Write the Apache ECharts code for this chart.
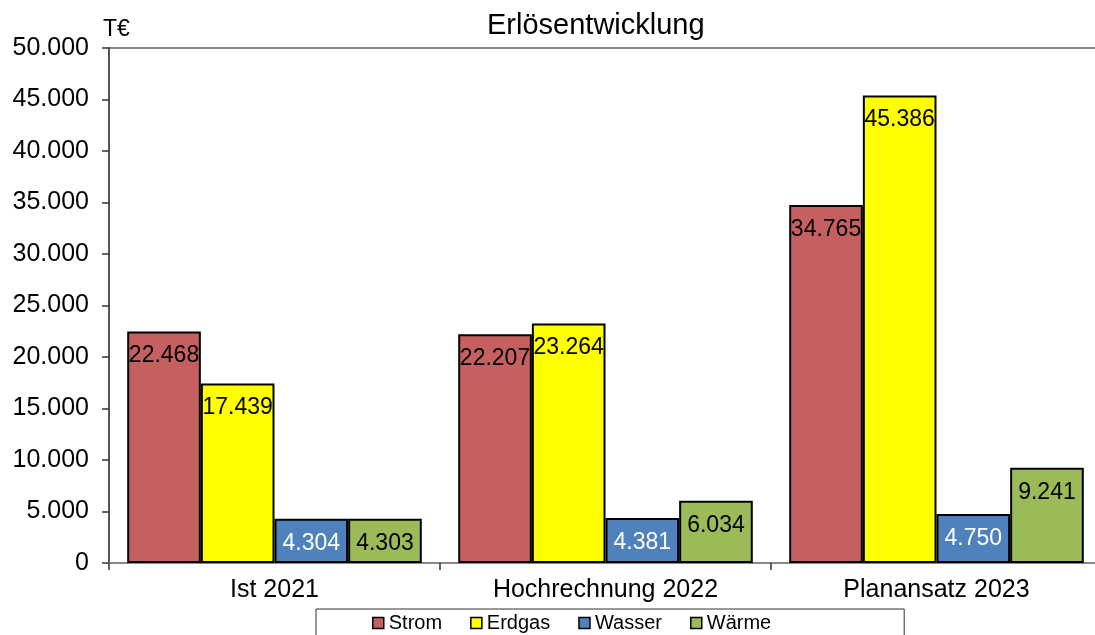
<!DOCTYPE html>
<html>
<head>
<meta charset="utf-8">
<script src="https://cdn.jsdelivr.net/npm/echarts@6/dist/echarts.min.js"></script>
<style>
  html, body { margin: 0; padding: 0; background: #fff; }
  #chart { width: 1095px; height: 635px; }
</style>
</head>
<body>
<div id="chart"></div>
<script>
// Werte in T€
const categories = ["Ist 2021", "Hochrechnung 2022", "Planansatz 2023"];
const strom = [22468, 22207, 34765];
const erdgas = [17439, 23264, 45386];
const wasser = [4304, 4381, 4750];
const waerme = [4303, 6034, 9241];
const yTicks = [0, 5000, 10000, 15000, 20000, 25000, 30000, 35000, 40000, 45000, 50000];

const font = "Liberation Sans, Arial, sans-serif";

// Tausenderpunkt
function fmt(v) {
  return Math.round(v).toString().replace(/\B(?=(\d{3})+(?!\d))/g, ".");
}

function bar(name, data, color, labelColor) {
  return {
    name: name,
    type: "bar",
    data: data,
    barGap: "0%",
    barCategoryGap: "11%",
    itemStyle: { color: color, borderColor: "#000", borderWidth: 2 },
    label: {
      show: true,
      position: "insideTop",
      distance: 13,
      color: labelColor,
      fontSize: 23,
      fontFamily: font,
      formatter: (p) => fmt(p.value),
    },
  };
}

const chart = echarts.init(document.getElementById("chart"));
chart.setOption({
  animation: false,
  title: {
    text: "Erlösentwicklung",
    left: 482,
    top: 6,
    textStyle: { fontSize: 29, fontWeight: "normal", color: "#000", fontFamily: font },
  },
  graphic: [
    {
      type: "text",
      left: 103,
      top: 18,
      style: { text: "T€", fontSize: 23, fill: "#000", fontFamily: font },
    },
  ],
  legend: {
    left: 316,
    top: 609,
    padding: [4, 133, 12, 56],
    itemGap: 28,
    itemWidth: 11,
    itemHeight: 11,
    borderColor: "#333",
    borderWidth: 1,
    icon: "rect",
    textStyle: { fontSize: 20, color: "#000", fontFamily: font },
    itemStyle: { borderColor: "#000", borderWidth: 1.5 },
  },
  grid: {
    left: 109,
    right: -7,
    top: 48,
    bottom: 72,
    outerBoundsMode: "none",
    show: true,
    borderColor: "#888",
    borderWidth: 2,
  },
  xAxis: {
    type: "category",
    data: categories,
    axisLine: { lineStyle: { color: "#888", width: 2 } },
    axisTick: { show: true, length: 7, lineStyle: { color: "#333", width: 1.5 } },
    axisLabel: { fontSize: 25, color: "#000", fontFamily: font, margin: 15 },
  },
  yAxis: {
    type: "value",
    min: yTicks[0],
    max: yTicks[yTicks.length - 1],
    interval: yTicks[1] - yTicks[0],
    axisLine: { show: true, lineStyle: { color: "#555", width: 2 } },
    axisTick: { show: true, length: 7, lineStyle: { color: "#333", width: 1.5 } },
    splitLine: { show: false },
    axisLabel: {
      fontSize: 25,
      color: "#000",
      fontFamily: font,
      margin: 20,
      formatter: (v) => fmt(v),
    },
  },
  series: [
    bar("Strom", strom, "#C65F5F", "#000"),
    bar("Erdgas", erdgas, "#FFFF00", "#000"),
    bar("Wasser", wasser, "#4F81BD", "#fff"),
    bar("Wärme", waerme, "#9BBB59", "#000"),
  ],
});
</script>
</body>
</html>
